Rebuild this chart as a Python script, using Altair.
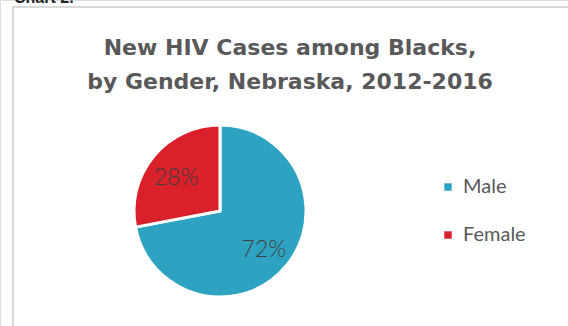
import altair as alt
import pandas as pd

genders = ["Male", "Female"]
shares = [72, 28]
labels = ["72%", "28%"]
colors = ["#2EA3C1", "#D9202B"]
title_lines = ["New HIV Cases among Blacks,", "by Gender, Nebraska, 2012-2016"]

df = pd.DataFrame({"gender": genders, "share": shares, "label": labels, "order": [0, 1]})

cx, cy, R = 220, 211, 86

base = alt.Chart(df).encode(
    theta=alt.Theta("share:Q", stack=True),
    order=alt.Order("order:Q"),
)

pie = base.mark_arc(radius=R, stroke="white", strokeWidth=3).encode(
    x=alt.value(cx), y=alt.value(cy),
    color=alt.Color(
        "gender:N",
        scale=alt.Scale(domain=genders, range=colors),
        sort=genders,
        legend=alt.Legend(
            title=None, orient="none", legendX=438, legendY=177,
            symbolType="square", symbolSize=55, symbolStrokeWidth=0,
            labelFontSize=20, labelColor="#595959", labelFont="Lato",
            labelOffset=5, rowPadding=28,
        ),
    ),
)

text = base.mark_text(radius=57, fontSize=23, font="Lato", fontWeight=300, color="#404040", dy=3).encode(
    x=alt.value(cx), y=alt.value(cy), text="label:N"
)

title = alt.Chart(pd.DataFrame({"t": [0]})).mark_text(
    fontSize=22, fontWeight="bold", font="DejaVu Sans", color="#595959",
    align="center", baseline="alphabetic", lineHeight=34,
).encode(x=alt.value(290), y=alt.value(55), text=alt.value(title_lines))

chart_lbl = alt.Chart(pd.DataFrame({"t": [0]})).mark_text(
    fontSize=16, fontWeight="bold", font="Liberation Sans", color="#222222",
    align="left", baseline="alphabetic",
).encode(x=alt.value(14), y=alt.value(3), text=alt.value("Chart 2."))

border_left = alt.Chart(pd.DataFrame({"t": [0]})).mark_rule(color="#d9d9d9", strokeWidth=2).encode(
    x=alt.value(13), y=alt.value(6), y2=alt.value(326)
)
border_top = alt.Chart(pd.DataFrame({"t": [0]})).mark_rule(color="#d9d9d9", strokeWidth=2).encode(
    x=alt.value(12), x2=alt.value(568), y=alt.value(7)
)

chart = alt.layer(border_left, border_top, chart_lbl, title, pie, text).properties(
    width=568, height=326, padding=0,
    autosize=alt.AutoSizeParams(type="none"),
).configure_view(stroke=None).configure(background="white")

chart.save("out.html", embed_options={"renderer": "svg", "actions": False})
